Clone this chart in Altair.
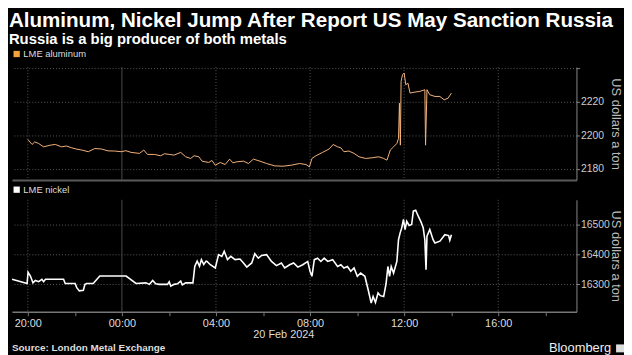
import altair as alt
import pandas as pd

# ---- data (hours since 20:00 on 19 Feb 2024, value in USD/ton) ----
al_hours = [0.00, 0.18, 0.29, 0.46, 0.67, 0.96, 1.17, 1.44, 1.64, 1.87, 2.06, 2.29, 2.57, 2.85,
            3.13, 3.41, 3.69, 3.97, 4.17, 4.39, 4.75, 4.93, 5.09, 5.38, 5.65, 5.81, 6.01, 6.22,
            6.50, 6.71, 6.92, 7.07, 7.27, 7.41, 7.69, 7.83, 7.97, 8.18, 8.39, 8.58, 8.72, 8.88,
            9.17, 9.38, 9.59, 9.87, 10.15, 10.50, 10.85, 11.20, 11.55, 11.83, 11.97, 12.08,
            12.25, 12.53, 12.81, 12.98, 13.17, 13.31, 13.44, 13.65, 13.87, 14.08, 14.36, 14.64,
            14.92, 15.13, 15.27, 15.41, 15.55, 15.69, 15.76, 15.80, 15.84, 15.87, 15.93, 16.00,
            16.07, 16.16, 16.25, 16.46, 16.67, 16.88, 16.91, 16.97, 17.09, 17.31, 17.52, 17.70,
            17.87, 18.01]
al_values = [2197.5, 2194.5, 2196.0, 2195.1, 2193.1, 2194.1, 2194.5, 2193.1, 2193.6, 2192.5,
             2191.8, 2191.2, 2190.2, 2192.1, 2191.8, 2190.7, 2190.6, 2190.2, 2190.8, 2189.8,
             2189.2, 2191.2, 2188.6, 2188.6, 2187.8, 2189.0, 2188.6, 2188.2, 2189.8, 2187.2,
             2186.2, 2187.8, 2187.2, 2184.6, 2183.8, 2185.0, 2182.2, 2183.8, 2182.6, 2185.8,
             2183.6, 2184.2, 2184.6, 2183.2, 2185.8, 2184.6, 2183.2, 2181.8, 2181.6, 2182.2,
             2183.2, 2182.6, 2181.2, 2186.2, 2187.8, 2189.8, 2191.8, 2194.5, 2193.1, 2192.5,
             2190.2, 2190.6, 2189.2, 2187.2, 2186.2, 2186.6, 2187.2, 2186.2, 2185.2, 2191.2,
             2193.1, 2195.1, 2198.1, 2219.0, 2194.1, 2231.9, 2235.9, 2236.9, 2229.9, 2230.9,
             2225.0, 2225.6, 2226.0, 2227.0, 2194.1, 2227.0, 2224.0, 2223.0, 2223.0, 2221.0,
             2222.0, 2225.0]

ni_hours = [-0.67, -0.03, 0.01, 0.11, 0.22, 0.32, 0.46, 0.60, 0.67, 0.75, 1.52, 1.59, 2.01, 2.08,
            2.19, 2.36, 2.43, 2.50, 2.78, 3.06, 4.18, 4.60, 5.02, 5.17, 5.31, 5.44, 5.59, 5.94,
            6.01, 6.08, 6.22, 6.36, 6.50, 6.57, 6.71, 7.02, 7.10, 7.20, 7.30, 7.38, 7.48, 7.58,
            7.62, 7.76, 7.97, 8.11, 8.25, 8.35, 8.49, 8.63, 8.81, 9.02, 9.17, 9.31, 9.52, 9.65,
            9.80, 9.94, 10.15, 10.36, 10.57, 10.78, 10.92, 11.13, 11.30, 11.48, 11.69, 11.90,
            12.00, 12.08, 12.18, 12.32, 12.46, 12.60, 12.75, 12.96, 13.17, 13.31, 13.44, 13.59,
            13.73, 13.87, 14.01, 14.15, 14.33, 14.47, 14.60, 14.68, 14.78, 14.89, 14.99, 15.13,
            15.23, 15.31, 15.38, 15.45, 15.55, 15.69, 15.76, 15.83, 15.90, 15.97, 16.04, 16.11,
            16.21, 16.32, 16.39, 16.49, 16.60, 16.72, 16.81, 16.88, 16.93, 16.97, 17.09, 17.23,
            17.31, 17.52, 17.73, 17.89, 17.94, 18.01]
ni_values = [16316, 16302, 16340, 16327, 16304, 16312, 16308, 16316, 16308, 16316, 16316, 16302,
             16302, 16288, 16277, 16279, 16299, 16302, 16302, 16327, 16327, 16302, 16304, 16299,
             16312, 16301, 16299, 16299, 16308, 16293, 16299, 16301, 16310, 16297, 16304, 16304,
             16360, 16377, 16360, 16382, 16366, 16377, 16376, 16365, 16354, 16399, 16393, 16410,
             16382, 16393, 16382, 16384, 16371, 16357, 16371, 16402, 16387, 16396, 16399, 16376,
             16362, 16371, 16354, 16365, 16371, 16357, 16365, 16376, 16343, 16326, 16382, 16387,
             16376, 16387, 16376, 16382, 16359, 16365, 16354, 16359, 16343, 16354, 16326, 16337,
             16326, 16281, 16236, 16258, 16238, 16270, 16261, 16258, 16301, 16359, 16326, 16359,
             16337, 16376, 16449, 16472, 16489, 16517, 16483, 16511, 16497, 16500, 16545, 16548,
             16528, 16508, 16489, 16449, 16348, 16461, 16483, 16449, 16438, 16444, 16466, 16463,
             16447, 16466]

grid_dotted_hours = [0, 8, 12, 16, 20]
grid_solid_hours = [4]
x_tick_hours = [0, 2, 4, 6, 8, 10, 12, 14, 16, 18, 20, 22]
al_ticks = [2180, 2200, 2220, 2240]
ni_ticks = [16300, 16400, 16500]

X_DOMAIN = [-0.674, 23.326]
FONT = "Liberation Sans"
W = 570

al_df = pd.DataFrame({"h": al_hours, "v": al_values, "s": "LME aluminum"})
ni_df = pd.DataFrame({"h": ni_hours, "v": ni_values, "s": "LME nickel"})

label_expr = ("datum.value % 4 == 0 ? ((((20 + datum.value) % 24) < 10) ? '0' : '') + "
              "((20 + datum.value) % 24) + ':00' : ''")

x_scale = alt.Scale(domain=X_DOMAIN, nice=False, zero=False)

x_top = alt.X("h:Q", scale=x_scale,
              axis=alt.Axis(labels=False, ticks=False, grid=False, domainColor="#5a5a5a",
                            domainWidth=2, title=None))
x_bot = alt.X("h:Q", scale=x_scale,
              axis=alt.Axis(values=x_tick_hours, labelExpr=label_expr, grid=False, tickSize=4,
                            tickColor="#777", domainColor="#777", domainWidth=1.5,
                            labelColor="#dddddd", labelFontSize=11, labelPadding=2,
                            labelOverlap=False, labelFlush=False,
                            title="20 Feb 2024", titleX=274, titleY=23, titleBaseline="middle",
                            titleFontWeight="normal", titleFontSize=11, titleColor="#dddddd"))


def vgrid(x_enc, hours, dotted):
    df = pd.DataFrame({"h": hours})
    if dotted:
        m = alt.Chart(df).mark_rule(color="#555", strokeWidth=1, strokeDash=[1, 2])
    else:
        m = alt.Chart(df).mark_rule(color="#4a4a4a", strokeWidth=1)
    return m.encode(x=x_enc)


def y_axis(ticks, expr, h):
    return alt.Axis(orient="right", values=ticks, labelExpr=expr, format="d",
                    grid=True, gridDash=[1, 2], gridColor="#5a5a5a",
                    domainColor="#888", tickColor="#888", tickSize=3, labelPadding=1,
                    labelColor="#cccccc", labelFontSize=10.5,
                    title="US dollars a ton", titleX=39, titleY=h / 2, titleAngle=90,
                    titleAlign="center", titleBaseline="middle", titleFontSize=13,
                    titleFontWeight="normal", titleColor="#bbbbbb")


def legend(color, y):
    return alt.Legend(title=None, orient="none", legendX=0, legendY=y, symbolType="square",
                      symbolSize=40, symbolFillColor=color, symbolStrokeColor=color,
                      symbolStrokeWidth=0, labelColor="#dddddd", labelFontSize=9.5,
                      labelOffset=2, padding=0)


H1, H2 = 114, 113

al_line = alt.Chart(al_df).mark_line(strokeWidth=1.0, interpolate="linear").encode(
    x=x_top,
    y=alt.Y("v:Q", scale=alt.Scale(domain=[2173.4, 2240.4], nice=False, zero=False),
            axis=y_axis(al_ticks, "datum.value >= 2240 ? '' : datum.label", H1)),
    color=alt.Color("s:N", scale=alt.Scale(domain=["LME aluminum"], range=["#f3b27a"]),
                    legend=legend("#f5a33a", -18)),
)

top = alt.layer(vgrid(x_top, grid_dotted_hours, True), vgrid(x_top, grid_solid_hours, False),
                al_line).properties(width=W, height=H1)

ni_line = alt.Chart(ni_df).mark_line(strokeWidth=1.6).encode(
    x=x_bot,
    y=alt.Y("v:Q", scale=alt.Scale(domain=[16207, 16583], nice=False, zero=False),
            axis=y_axis(ni_ticks, "datum.label", H2)),
    color=alt.Color("s:N", scale=alt.Scale(domain=["LME nickel"], range=["#ffffff"]),
                    legend=legend("#ffffff", -15)),
)

source = alt.Chart(pd.DataFrame({"t": ["Source: London Metal Exchange"]})).mark_text(
    align="left", baseline="middle", font=FONT, fontSize=10, fontWeight="bold", color="#dddddd"
).encode(x=alt.value(0), y=alt.value(150), text="t:N")

brand = alt.Chart(pd.DataFrame({"t": ["Bloomberg"]})).mark_text(
    align="right", baseline="middle", font=FONT, fontSize=13, color="#eeeeee"
).encode(x=alt.value(605), y=alt.value(150), text="t:N")

icon = alt.Chart(pd.DataFrame({"t": ["icon"]})).mark_point(
    shape="square", filled=True, size=64, color="#dddddd", opacity=1
).encode(x=alt.value(614), y=alt.value(150))

bottom = alt.layer(vgrid(x_bot, grid_dotted_hours, True), vgrid(x_bot, grid_solid_hours, False),
                   ni_line, source, brand, icon).properties(width=W, height=H2)

chart = alt.vconcat(top, bottom, spacing=20, bounds="flush").resolve_scale(
    y="independent", color="independent"
).properties(
    padding=0,
    title=alt.TitleParams(
        text="Aluminum, Nickel Jump After Report US May Sanction Russia",
        subtitle="Russia is a big producer of both metals",
        anchor="start", font=FONT, fontSize=20.8, fontWeight="bold", color="#ffffff",
        subtitleFont=FONT, subtitleFontSize=15, subtitleFontWeight="bold",
        subtitleColor="#ffffff", subtitlePadding=1, offset=1,
    ),
).configure(background="#000000", font=FONT).configure_view(strokeWidth=0)

chart.save("out.html", embed_options={"renderer": "svg", "actions": False})
